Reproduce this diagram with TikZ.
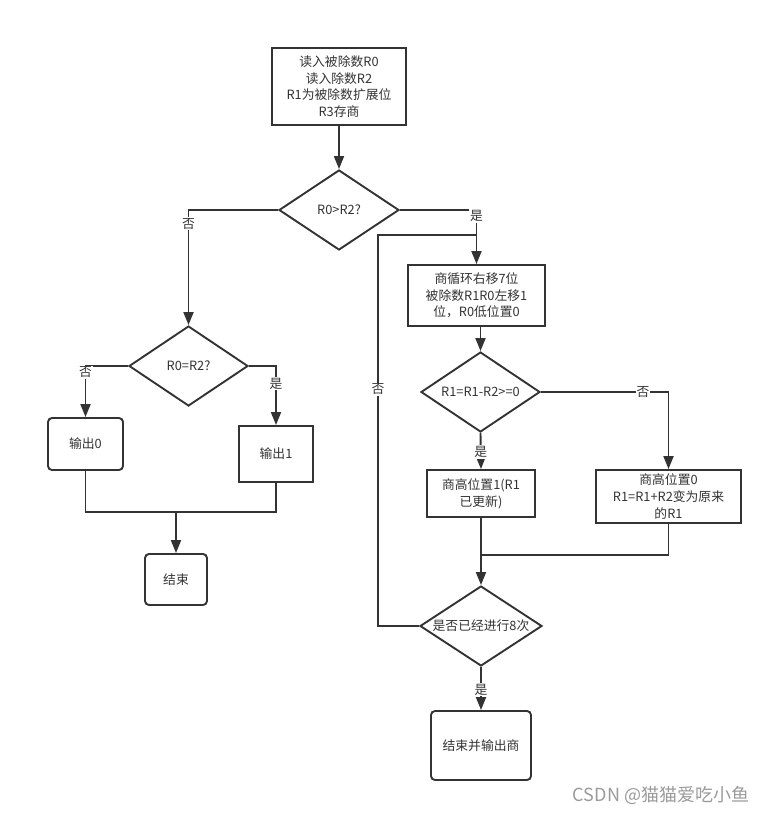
\documentclass[tikz,border=0pt]{standalone}
\usepackage{fontspec}
\setmainfont{Noto Sans CJK SC}
\usetikzlibrary{shapes.geometric,arrows.meta}
\definecolor{ink}{HTML}{333333}
\definecolor{wm}{HTML}{9A9A9A}
\begin{document}
\begin{tikzpicture}[x=1pt,y=-1pt,
  every node/.style={text=ink,font=\fontsize{12.8}{16.7}\selectfont},
  box/.style={draw=ink,line width=1.9pt,align=center,inner sep=0pt},
  rbox/.style={box,rounded corners=4pt},
  dia/.style={draw=ink,line width=1.9pt,diamond,inner sep=0pt,aspect=1.5,minimum width=120pt,minimum height=80pt},
  conn/.style={draw=ink,line width=1.9pt},
  arr/.style={conn,-{Triangle[length=13pt,width=10pt]}},
  lab/.style={fill=white,inner sep=1pt}]
\useasboundingbox (0,0) rectangle (773,813);
% nodes
\node[box,minimum width=134pt,minimum height=77pt] (b1) at (339,86.5) {读入被除数R0\\读入除数R2\\R1为被除数扩展位\\R3存商};
\node[dia] (d1) at (339,210) {\makebox[0pt]{R0>R2?}};
\node[dia,minimum width=119pt] (d2) at (188.5,366) {\makebox[0pt]{R0=R2?}};
\node[rbox,minimum width=75pt,minimum height=52pt] (o0) at (85.5,444) {输出0};
\node[box,minimum width=74pt,minimum height=56pt] (o1) at (276,454) {输出1};
\node[rbox,minimum width=62pt,minimum height=51pt] (e1) at (176,579.5) {结束};
\node[box,minimum width=137pt,minimum height=61pt] (b2) at (476.5,295.5) {商循环右移7位\\被除数R1R0左移1\\位，R0低位置0};
\node[dia,minimum width=119pt] (d3) at (480.5,392) {\makebox[0pt]{R1=R1-R2>=0}};
\node[box,minimum width=108pt,minimum height=47pt] (b3) at (481,493.5) {商高位置1(R1\\已更新)};
\node[box,minimum width=145pt,minimum height=53pt] (b4) at (668.5,496.5) {商高位置0\\R1=R1+R2变为原来\\的R1};
\node[dia,minimum width=122pt] (d4) at (481,626) {\makebox[0pt]{是否已经进行8次}};
\node[rbox,minimum width=100pt,minimum height=69pt] (b5) at (481,745.5) {结束并输出商};
\node[text=wm,font=\fontsize{18}{20}\selectfont] (wmk) at (661,795) {CSDN @猫猫爱吃小鱼};
% helper coordinates
\coordinate (lp) at (476.5,235);
\coordinate (lx) at (378,0);
\coordinate (jn) at (176,512);
\coordinate (jn2) at (481,555);
% connectors
\draw[arr] (b1) -- (d1);
\draw[arr] (d1.west) -| node[lab,pos=0.56] {否} (d2.north);
\draw[arr] (d1.east) -| node[lab,pos=0.555] {是} (b2.north);
\draw[conn] (d4.west) -- (d4.west -| lx) |- node[lab,pos=0.303] {否} (lp);
\draw[arr] (d2.west) -| node[lab,pos=0.56] {否} (o0.north);
\draw[arr] (d2.east) -| node[lab,pos=0.65] {是} (o1.north);
\draw[conn] (o0.south) |- (jn);
\draw[conn] (o1.south) |- (jn);
\draw[arr] (jn) -- (e1.north);
\draw[arr] (b2.south -| d3.north) -- (d3.north);
\draw[arr] (d3.east) -| node[lab,pos=0.40] {否} (b4.north);
\draw[arr] (d3.south) -- node[lab,pos=0.53] {是} (b3.north);
\draw[arr] (b3.south) -- (d4.north);
\draw[conn] (b4.south) |- (jn2);
\draw[arr] (d4.south) -- node[lab,pos=0.53] {是} (b5.north);
\end{tikzpicture}
\end{document}
